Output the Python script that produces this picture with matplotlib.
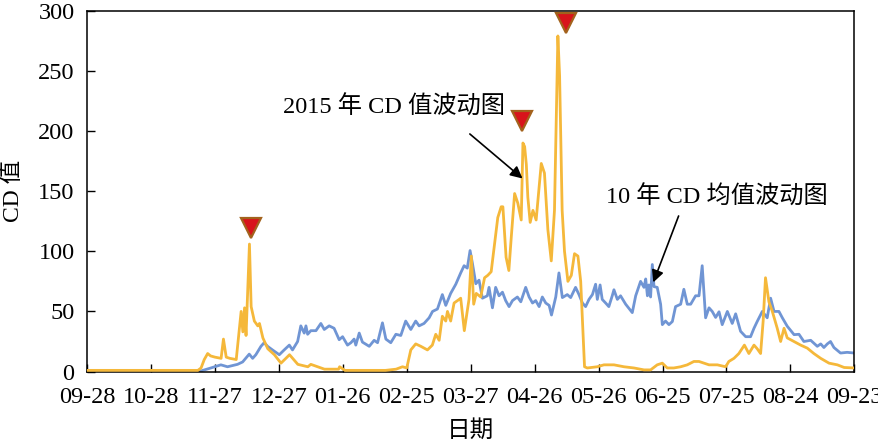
import numpy as np
import matplotlib
matplotlib.use("Agg")
import matplotlib.pyplot as plt

# day offsets from 09-28
y2015_day = [0, 20, 40, 52, 53.5, 55, 56.6, 58, 60, 62.9, 64, 65.3, 67, 70, 70.7, 72.3, 73.1,
             73.9, 74.6, 76.2, 77, 78.5, 80.1, 80.9, 82.5, 84.8, 87.9, 91, 95, 98.9, 103.6,
             105, 111.4, 118, 118.5, 121, 128.6, 140, 145, 148, 150, 151.9, 154.2, 156.6,
             159.7, 162, 163.6, 165.2, 166.7, 168.3, 169.1, 170.6, 172.2, 174.6, 175.3, 177,
             179.2, 180.3, 181.4, 182.6, 184.7, 186.5, 188, 189.6, 191.2, 192.7, 194.3, 195.1,
             196.6, 197.9, 199, 200.6, 202.1, 203.7, 204.5, 205.3, 206.1, 206.8, 207.9, 209.2,
             210.7, 213.1, 214.6, 216.2, 217.8, 219.3, 220.9, 221.7, 222.9, 224, 225.6, 227.2,
             228.7, 230.3, 231.6, 232.5, 233.4, 234.7, 239.4, 242.5, 247.2, 251.9, 256.6,
             261.3, 264.4, 267.5, 269.9, 272.2, 275.3, 278.5, 281.6, 284.7, 287.1, 289.4,
             291.8, 295.7, 299.6, 301.1, 303.5, 305.8, 308.4, 310.5, 312.9, 314.4, 316, 317.2,
             318.3, 319.9, 321.5, 323.8, 325.4, 327, 328.5, 331.6, 334.8, 337.9, 341, 344.2,
             348.1, 352, 355.2, 360]
y2015_val = [1, 1, 1, 1, 3, 10, 15, 13, 12, 11, 27, 12, 11, 10, 22, 50, 33,
             53, 30, 106, 54, 42, 38, 40, 28, 19, 14, 7, 14, 6, 4,
             6, 2, 2, 4, 1, 1, 1, 2, 4, 3, 18, 23, 21,
             18, 22, 31, 26, 46, 42, 50, 42, 57, 60, 61, 34,
             60, 96, 56, 65, 62, 78, 80, 83, 106, 128, 137, 137,
             95, 84, 111, 148, 140, 126, 190, 187, 172, 145, 124, 134,
             126, 173, 165, 118, 92, 134, 279, 246, 134, 100, 75, 80,
             98, 96, 75, 40, 4, 3, 4, 5.6, 5.6, 4, 3,
             1.4, 1.4, 5.6, 7, 3, 3, 4, 5.6, 8.4, 8.4, 7,
             5.6, 5.6, 4, 8.4, 11, 15, 22, 15, 22, 19, 15, 42,
             78, 58, 50, 36, 25, 36, 28, 25, 22, 19.5, 15, 11,
             7, 5.6, 3.4, 3]

mean10_day = [0, 20, 40, 53.4, 58.1, 62.8, 65.9, 70.6, 73, 76.1, 77.7, 79.2, 81.6, 83.1, 84.7,
              87, 90.2, 92.5, 94.9, 96.4, 98.8, 100.3, 101.9, 102.7, 103.5, 105, 107.4, 109.7,
              111.3, 113.6, 115.9, 118.3, 119.9, 122.2, 123.8, 125.3, 126.1, 127.7, 129.2,
              132.4, 134.7, 136.3, 138.6, 140.2, 142.5, 144.9, 147.2, 149.5, 151.9, 154.2,
              155.8, 158.1, 160.5, 162.1, 164.4, 166.7, 168.3, 170.6, 173, 175.3, 176.9,
              178.4, 179.7, 180.8, 182.4, 183.9, 185.5, 187.8, 188.6, 190.2, 191.7, 193.3,
              194.9, 196.4, 198, 199.6, 201.9, 203.5, 205.8, 207.4, 209, 210.5, 212.1, 213.6,
              215.2, 216.8, 217.9, 219.9, 221.4, 223, 225.3, 226.9, 229.2, 230.8, 232.4,
              233.9, 235.5, 237.1, 238.6, 239.4, 240.7, 241.7, 243.3, 244.8, 246.4, 247.2,
              248.8, 250.3, 252.7, 255.8, 257.4, 259.7, 261.3, 262.1, 262.9, 263.6, 264.4,
              265.2, 266, 267.5, 269.1, 269.9, 271.4, 273, 274.6, 276.1, 278.5, 280, 281.6,
              283.2, 285.5, 287.1, 288.6, 290.2, 291.8, 293.3, 294.9, 296.5, 298, 300.4,
              302.7, 304.3, 306.6, 309, 311.3, 312.9, 314.4, 316.8, 319.1, 320.7, 322.3,
              324.6, 326.2, 328.5, 331.7, 334, 336.3, 339.5, 342.6, 344.2, 345.7, 347.3,
              348.8, 350.4, 353.5, 356.6, 360]
mean10_val = [0.5, 0.5, 0.5, 0.5, 3, 5.6, 4, 6, 8, 14.5, 11, 14, 21, 24, 21,
              18, 14, 18, 22, 18, 25, 38, 32, 38, 31, 34, 34, 40,
              35, 38, 36, 26.5, 29, 22, 24, 27, 22, 32, 24.5,
              21, 26, 24, 40.5, 27, 24, 31, 30, 42, 35, 42,
              38, 40, 44.7, 50, 52, 64, 55, 65, 72.6, 82, 88,
              86, 100.6, 90, 73, 76, 61, 63, 70, 53, 70, 63,
              66, 59, 54, 59, 62, 58, 70, 62, 57, 59, 54, 62,
              57, 55, 47, 62, 82, 61.5, 64, 61.5, 70, 64, 57,
              54, 60, 64, 72.6, 60, 72, 60, 57, 54, 63, 68,
              60, 63, 56, 49, 63, 75, 70, 77, 63, 72, 62,
              89, 70.6, 70, 56, 39, 42, 39, 41.6, 54, 56, 68.4, 56,
              56, 63, 63, 88, 44.7, 53, 50, 45, 49.7, 39, 50,
              40, 48, 33.5, 29, 29, 36, 41.6, 50, 44.7, 61, 50,
              50, 44.7, 37.7, 30.7, 31, 25, 26, 21, 23, 20, 23,
              25, 20, 15.4, 16, 15.4]

peak_day = [76.8, 204.2, 224.8]
peak_val = [119, 208, 290]

tick_day = [0, 30, 60, 90, 120, 150, 180, 210, 240, 270, 300, 330, 360]
tick_lab = ['09-28', '10-28', '11-27', '12-27', '01-26', '02-25', '03-27',
            '04-26', '05-26', '06-25', '07-25', '08-24', '09-23']

fam = ['Liberation Serif', 'Noto Sans CJK SC']
plt.rcParams['font.family'] = fam
plt.rcParams['font.size'] = 17

fig = plt.figure(figsize=(8.79, 4.45), dpi=100)
ax = fig.add_axes([0.099, 0.165, 0.873, 0.811])

ax.plot(mean10_day, mean10_val, color='#7095d4', lw=2.0, zorder=2)
ax.plot(y2015_day, y2015_val, color='#f5b83a', lw=2.0, zorder=3)
ax.plot(peak_day, peak_val, linestyle='none', marker='v', markersize=15,
        markerfacecolor='#d8141b', markeredgecolor='#a3621c', markeredgewidth=1.6,
        zorder=4, clip_on=False)

ax.text(143.9, 220, '2015 年 CD 值波动图', ha='center', va='center', fontsize=17.5)
ax.annotate('', xy=(205.3, 159), xytext=(178.6, 199),
            arrowprops=dict(arrowstyle='-|>', color='black', lw=1.2, mutation_scale=18))
ax.text(295.4, 145, '10 年 CD 均值波动图', ha='center', va='center', fontsize=17.5)
ax.annotate('', xy=(265.2, 72), xytext=(278, 131.5),
            arrowprops=dict(arrowstyle='-|>', color='black', lw=1.2, mutation_scale=18))

ax.set_xlim(0, 360)
ax.set_ylim(0, 300)
ax.set_xticks(tick_day)
ax.set_xticklabels(tick_lab)
ax.set_yticks(np.arange(0, 301, 50))
ax.tick_params(direction='in', length=5.5, width=1, labelsize=17.5)
ax.tick_params(axis='x', pad=11)
ax.tick_params(axis='y', pad=9)
for s in ax.spines.values():
    s.set_linewidth(1.1)

ax.set_xlabel('日期', fontsize=17, labelpad=9)
ax.set_ylabel('CD 值', fontsize=17, labelpad=10)

fig.savefig('out.png', dpi=100)
